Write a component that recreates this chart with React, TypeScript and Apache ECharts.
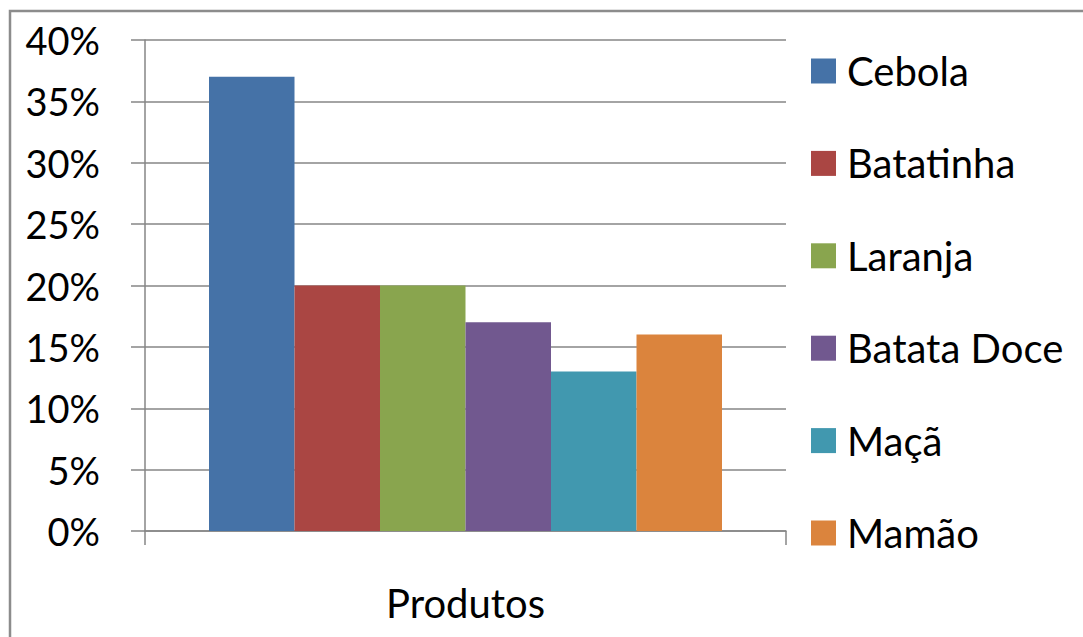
import React, { useEffect, useRef } from "react";
import * as echarts from "echarts";

const categories = ["Produtos"];
const seriesNames = ["Cebola", "Batatinha", "Laranja", "Batata Doce", "Maçã", "Mamão"];
const seriesValues = [37, 20, 20, 17, 13, 16];
const seriesColors = ["#4572A7", "#AA4643", "#89A54E", "#71588F", "#4198AF", "#DB843D"];
const yTicks = { min: 0, max: 40, interval: 5 };

const FONT = "Lato, 'Open Sans', sans-serif";

export default function App() {
  const ref = useRef<HTMLDivElement>(null);
  useEffect(() => {
    if (!ref.current) return;
    const chart = echarts.init(ref.current, null, { renderer: "svg" });
    chart.setOption({
      animation: false,
      backgroundColor: "#ffffff",
      textStyle: { fontFamily: FONT },
      grid: { left: 145, top: 40, width: 641, height: 491, containLabel: false },
      graphic: [
        {
          type: "rect",
          shape: { x: 10, y: 11, width: 1200, height: 800 },
          style: { fill: "none", stroke: "#8c8c8c", lineWidth: 2.5 },
          silent: true,
        },
      ],
      legend: {
        orient: "vertical",
        left: 806,
        top: 46,
        itemWidth: 25,
        itemHeight: 25,
        itemGap: 52.4,
        icon: "rect",
        data: seriesNames,
        textStyle: {
          fontFamily: FONT,
          fontSize: 40,
          lineHeight: 40,
          color: "#000",
          padding: [0, 0, 0, 6],
        },
      },
      xAxis: {
        type: "category",
        data: categories,
        axisLine: { lineStyle: { color: "#868686", width: 1.5 } },
        axisTick: { show: true, length: 14, lineStyle: { color: "#868686", width: 1.5 } },
        axisLabel: { color: "#000", fontSize: 40, fontFamily: FONT, margin: 52 },
      },
      yAxis: {
        type: "value",
        min: yTicks.min,
        max: yTicks.max,
        interval: yTicks.interval,
        axisLine: { show: true, lineStyle: { color: "#868686", width: 1.5 } },
        axisTick: { show: true, length: 14, lineStyle: { color: "#868686", width: 1.5 } },
        splitLine: { show: true, lineStyle: { color: "#868686", width: 1.5 } },
        axisLabel: {
          color: "#000",
          fontSize: 38,
          fontFamily: FONT,
          margin: 45,
          formatter: "{value}%",
        },
      },
      series: seriesNames.map((name, i) => ({
        name,
        type: "bar",
        data: [seriesValues[i]],
        barWidth: 85.5,
        barGap: 0,
        itemStyle: { color: seriesColors[i] },
      })),
    });
    return () => chart.dispose();
  }, []);
  return (
    <div
      ref={ref}
      style={{ position: "fixed", left: 0, top: 0, width: 1083, height: 637 }}
    />
  );
}
